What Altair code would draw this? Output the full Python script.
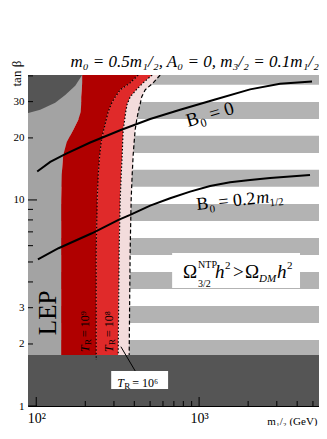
import altair as alt
import pandas as pd

FONT = "Liberation Serif"
W, H = 291, 331

# axis domains
X_MIN, X_MAX = 89, 5447
Y_MIN, Y_MAX = 1, 40.4

# region boundaries: tan(beta) levels and m_1/2 (GeV) of each edge at those levels
tb_levels = [40.4, 37.0, 34.2, 31.6, 29.2, 26.7, 24.4, 21.9, 19.1, 16.5, 13.2, 10.0, 5.72, 3.27, 1.77]
lep_edge = [191.5, 191.5, 190.2, 188.8, 188.8, 187.5, 181.0, 169.0, 154.0, 146.4, 143.3, 142.3, 142.3, 142.3, 142.3]
tr9_edge = [422.6, 377.3, 327.6, 305.2, 288.5, 276.5, 268.8, 259.5, 250.5, 245.2, 240.1, 236.8, 233.4, 233.4, 233.4]
tr8_edge = [514.8, 453.4, 410.7, 377.3, 361.7, 354.1, 349.1, 341.8, 339.4, 337.0, 332.3, 327.6, 323.0, 320.8, 318.6]
tr6_edge = [576.4, 522.2, 466.4, 443.9, 434.5, 422.6, 413.6, 404.9, 399.2, 393.6, 388.1, 382.6, 377.3, 374.7, 372.1]
tr9_tail_tb = 1.67

# dark-grey corner (top left)
corner_tb = [40.4, 35.8, 32.3, 29.6, 27.4, 26.4]
corner_m = [191.5, 173.5, 150.7, 130.8, 105.8, 89.3]

# bottom excluded band
floor_tb = 1.77

# hatched stripes (grey bands)
stripe_lo = [36.2, 24.7, 16.9, 11.6, 7.91, 5.41, 3.70, 2.53, 1.73]
stripe_hi = [40.4, 29.9, 20.5, 14.0, 9.56, 6.54, 4.47, 3.06, 2.09]

# B0 = 0 and B0 = 0.2 m1/2 curves
b0_m = [101.4, 121.9, 150.7, 214.5, 327.6, 500.6, 764.6, 1254, 2055, 3140, 4935]
b0_tb = [13.75, 15.3, 16.7, 19.0, 21.8, 24.7, 27.4, 30.7, 34.4, 36.6, 37.6]
b02_m = [102.4, 137.0, 219.6, 319.8, 377.3, 500.6, 663.8, 880.6, 1168, 1550, 2055, 2727, 4797]
b02_tb = [5.15, 5.83, 6.89, 8.0, 8.46, 9.38, 10.19, 10.97, 11.69, 12.19, 12.51, 12.79, 13.22]

# axis ticks
x_major = [100, 1000]
x_minor = [200, 300, 400, 500, 600, 700, 800, 900, 2000, 3000, 4000, 5000]
y_major = [1, 10]
y_minor = [2, 3, 4, 5, 6, 7, 8, 9, 20, 30, 40]
y_labels = [1, 2, 3, 10, 20, 30]

xs = alt.Scale(type="log", domain=[X_MIN, X_MAX], nice=False)
ys = alt.Scale(type="log", domain=[Y_MIN, Y_MAX], nice=False)

x_axis = alt.Axis(
    values=x_major, labelExpr="datum.value == 100 ? '10²' : '10³'",
    ticks=False, grid=False, domain=True, domainColor="black",
    labelFont=FONT, labelFontSize=14, labelColor="black", labelPadding=5,
    title="m₁/₂ (GeV)", titleFont=FONT, titleFontSize=11, titleFontWeight="normal",
    titleColor="black", titleAnchor="end", titleAlign="right", titleX=W - 2, titleY=18,
    titleBaseline="alphabetic")
y_axis = alt.Axis(
    values=y_labels, ticks=False, grid=False, domain=True, domainColor="black",
    labelFont=FONT, labelFontSize=11, labelColor="black", labelPadding=4,
    title="tan β", titleFont=FONT, titleFontSize=13, titleFontWeight="normal",
    titleColor="black", titleAngle=270, titleX=-12, titleY=11,
    titleAlign="left", titleBaseline="middle")


def X(f):
    return alt.X(f, type="quantitative", scale=xs, axis=x_axis)


def Y(f):
    return alt.Y(f, type="quantitative", scale=ys, axis=y_axis)


stripes = pd.DataFrame({"lo": stripe_lo, "hi": stripe_hi,
                        "x0": [X_MIN] * len(stripe_lo), "x1": [X_MAX] * len(stripe_lo)})
base = alt.Chart(stripes).mark_rect(color="#b3b3b3", clip=True).encode(
    x=X("x0"), x2="x1:Q", y=Y("lo"), y2="hi:Q")

n = len(tb_levels)
regions = pd.DataFrame({
    "tb": tb_levels, "i": list(range(n)),
    "xmin": [X_MIN] * n, "lep": lep_edge, "t9": tr9_edge, "t8": tr8_edge, "t6": tr6_edge,
})


def band(left, right, color):
    return alt.Chart(regions).mark_area(orient="horizontal", color=color, clip=True).encode(
        y=Y("tb"), x=X(left), x2=right + ":Q")


lep = band("xmin", "lep", "#a3a3a3")
dred = band("lep", "t9", "#b00000")
red = band("t9", "t8", "#e02a2a")
pink = band("t8", "t6", "#f3dcdc")

corner_df = pd.DataFrame({"tb": corner_tb, "m": corner_m, "x0": [X_MIN] * len(corner_tb)})
corner = alt.Chart(corner_df).mark_area(orient="horizontal", color="#555555", clip=True).encode(
    y=Y("tb"), x=X("x0"), x2="m:Q")

floor_df = pd.DataFrame({"x0": [X_MIN], "x1": [X_MAX], "y0": [Y_MIN], "y1": [floor_tb]})
floor = alt.Chart(floor_df).mark_rect(color="#555555", clip=True).encode(
    x=X("x0"), x2="x1:Q", y=Y("y0"), y2="y1:Q")


def edge_line(xvals, yvals, dash, width=1.2):
    df = pd.DataFrame({"m": xvals, "tb": yvals, "i": list(range(len(xvals)))})
    return alt.Chart(df).mark_line(color="black", strokeDash=dash, strokeWidth=width, clip=True).encode(
        x=X("m"), y=Y("tb"), order="i:Q")


l9 = edge_line(tr9_edge + [tr9_edge[-1]], tb_levels + [tr9_tail_tb], [1.5, 2])
l8 = edge_line(tr8_edge, tb_levels, [1.5, 2])
l6 = edge_line(tr6_edge, tb_levels, [4, 2.5])


def curve(xv, yv):
    df = pd.DataFrame({"m": xv, "tb": yv})
    return alt.Chart(df).mark_line(color="black", strokeWidth=2, clip=True).encode(
        x=X("m"), y=Y("tb"))


c0 = curve(b0_m, b0_tb)
c02 = curve(b02_m, b02_tb)


def box(x0, x1, y0, y1):
    df = pd.DataFrame({"x0": [x0], "x1": [x1], "y0": [y0], "y1": [y1]})
    return alt.Chart(df).mark_rect(color="white").encode(x=X("x0"), x2="x1:Q", y=Y("y0"), y2="y1:Q")


def txt(x, y, s, size, dx=0, dy=0, angle=0, style="normal", align="left", baseline="alphabetic"):
    df = pd.DataFrame({"x": [x], "y": [y], "t": [s]})
    return alt.Chart(df).mark_text(
        font=FONT, fontSize=size, fontStyle=style, color="black", dx=dx, dy=dy,
        angle=angle, align=align, baseline=baseline).encode(x=X("x"), y=Y("y"), text="t:N")


# Omega box and text
om_box = box(683, 4165, 3.74, 5.53)
OX, OY = 1687, 4.57
om = [
    txt(OX, OY, "Ω", 19, dx=-53, dy=8),
    txt(OX, OY, "NTP", 10, dx=-38, dy=-2),
    txt(OX, OY, "3/2", 10, dx=-38, dy=17),
    txt(OX, OY, "h", 19, dx=-21, dy=8, style="italic"),
    txt(OX, OY, "2", 11, dx=-11, dy=-1),
    txt(OX, OY, ">", 19, dx=-3, dy=8),
    txt(OX, OY, "Ω", 19, dx=9, dy=8),
    txt(OX, OY, "DM", 11, dx=23, dy=12, style="italic"),
    txt(OX, OY, "h", 19, dx=41, dy=8, style="italic"),
    txt(OX, OY, "2", 11, dx=51, dy=-1),
]

# B0 labels
b0_lab = [
    txt(855.9, 22.6, "B", 19, angle=344),
    txt(855.9, 22.6, "0", 12, dx=13, dy=4, angle=344),
    txt(855.9, 22.6, "= 0", 19, dx=24, angle=344),
]
b02_lab = [
    txt(971.9, 8.94, "B", 18, angle=354),
    txt(971.9, 8.94, "0", 11, dx=12.5, dy=4, angle=354),
    txt(971.9, 8.94, "= 0.2", 18, dx=22, angle=354),
    txt(971.9, 8.94, "m", 18, dx=60, angle=354, style="italic"),
    txt(971.9, 8.94, "1/2", 11, dx=73, dy=4, angle=354),
]

lep_lab = txt(118.5, 2.83, "LEP", 25, angle=270, align="center", baseline="middle")


def tr_label(x, y, power, angle=0):
    return [
        txt(x, y, "T", 12, angle=angle, style="italic", baseline="middle"),
        txt(x, y, "R", 9, dx=7, dy=3, angle=angle, baseline="middle"),
        txt(x, y, "= 10" + power, 12, dx=15, angle=angle, baseline="middle"),
    ]


tr9_lab = tr_label(199.8, 1.83, "⁹", angle=270)
tr8_lab = tr_label(280.5, 1.83, "⁸", angle=270)
tr6_box = box(288.5, 645, 1.209, 1.479)
tr6_lab = tr_label(314, 1.30, "⁶")
pointer_df = pd.DataFrame({"m": [404.9, 330.8], "tb": [1.48, 1.94]})
pointer = alt.Chart(pointer_df).mark_line(color="black", strokeWidth=1).encode(x=X("m"), y=Y("tb"))

# inward ticks
xt_major = alt.Chart(pd.DataFrame({"v": x_major})).mark_rule(color="black").encode(
    x=X("v"), y=alt.value(H), y2=alt.value(H - 9))
xt_minor = alt.Chart(pd.DataFrame({"v": x_minor})).mark_rule(color="black").encode(
    x=X("v"), y=alt.value(H), y2=alt.value(H - 5))
yt_major = alt.Chart(pd.DataFrame({"v": y_major})).mark_rule(color="black").encode(
    y=Y("v"), x=alt.value(0), x2=alt.value(9))
yt_minor = alt.Chart(pd.DataFrame({"v": y_minor})).mark_rule(color="black", clip=True).encode(
    y=Y("v"), x=alt.value(0), x2=alt.value(5))

layers = [base, lep, corner, dred, red, pink, floor, l9, l8, l6, c0, c02, om_box] + om + b0_lab + b02_lab + \
    [lep_lab] + tr9_lab + tr8_lab + [pointer, tr6_box] + tr6_lab + [xt_major, xt_minor, yt_major, yt_minor]

chart = alt.layer(*layers).properties(
    width=W, height=H,
    title=alt.TitleParams("m₀ = 0.5m₁/₂, A₀ = 0, m₃/₂ = 0.1m₁/₂", anchor="end", font=FONT,
                          fontSize=17, fontStyle="italic", fontWeight="normal", color="black", offset=-11),
    autosize=alt.AutoSizeParams(type="none"),
    padding={"left": 20, "top": 67, "right": 0, "bottom": 20},
).configure_view(stroke="black", strokeWidth=1).configure(background="white")

chart.save("out.html", embed_options={"renderer": "svg", "actions": False})
